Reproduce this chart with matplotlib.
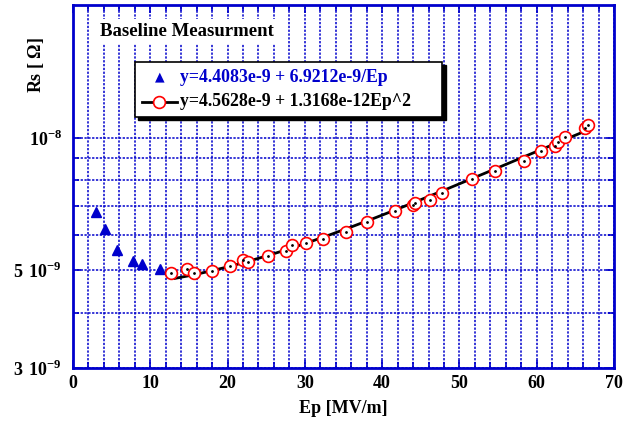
import numpy as np
import matplotlib
matplotlib.use("Agg")
import matplotlib.pyplot as plt
from matplotlib.ticker import FixedLocator, NullFormatter
from matplotlib.patches import Rectangle

plt.rcParams['font.family'] = 'Liberation Serif'
plt.rcParams['font.weight'] = 'bold'
plt.rcParams['mathtext.fontset'] = 'custom'
plt.rcParams['mathtext.rm'] = 'Liberation Serif:bold'
plt.rcParams['mathtext.bf'] = 'Liberation Serif:bold'

# low field points (blue triangles)
ep_low = [3.0, 4.1, 5.7, 7.7, 8.9, 11.3]
rs_low = [6.77e-9, 6.19e-9, 5.57e-9, 5.26e-9, 5.16e-9, 5.02e-9]

# measured points (red circles)
ep_meas = [12.7, 14.8, 15.6, 18.0, 20.3, 22.0, 22.6, 25.2, 27.6, 28.3, 30.1,
           32.4, 35.3, 38.1, 41.7, 44.0, 44.2, 46.2, 47.8, 51.6, 54.6, 58.3,
           60.5, 62.4, 62.8, 63.7, 66.2, 66.7]
rs_meas = [4.92e-9, 5.04e-9, 4.92e-9, 4.99e-9, 5.11e-9, 5.27e-9, 5.22e-9,
           5.40e-9, 5.53e-9, 5.72e-9, 5.78e-9, 5.90e-9, 6.11e-9, 6.42e-9,
           6.82e-9, 7.02e-9, 7.10e-9, 7.22e-9, 7.48e-9, 8.05e-9, 8.42e-9,
           8.85e-9, 9.32e-9, 9.57e-9, 9.76e-9, 1.002e-8, 1.049e-8, 1.067e-8]

# quadratic fit coefficients
fit_a = 4.5628e-9
fit_b = 1.3168e-12
fit_range = (13.2, 67.0)

label_low = 'y=4.4083e-9 + 6.9212e-9/Ep'
label_fit = 'y=4.5628e-9 + 1.3168e-12Ep^2'

blue = '#0000cc'

fig = plt.figure(figsize=(6.3, 4.26), dpi=100)
ax = fig.add_axes([73 / 630, 1 - 368 / 426, 541 / 630, 363 / 426])

ax.set_xlim(0, 70)
ax.set_yscale('log')
ax.set_ylim(3e-9, 2.0e-8)

# grid: every 2 on x, 4..10 e-9 on y
ax.xaxis.set_major_locator(FixedLocator(np.arange(0, 71, 10)))
ax.xaxis.set_minor_locator(FixedLocator(np.arange(0, 71, 2)))
ax.yaxis.set_major_locator(FixedLocator([3e-9, 5e-9, 1e-8]))
ax.yaxis.set_minor_locator(FixedLocator([4e-9, 6e-9, 7e-9, 8e-9, 9e-9]))
ax.yaxis.set_minor_formatter(NullFormatter())
ax.set_yticklabels([r'$3\ 10^{-9}$', r'$5\ 10^{-9}$', r'$10^{-8}$'])
ax.set_xticklabels([str(v) for v in range(0, 71, 10)])

ax.grid(True, which='both', color=blue, linestyle=(0, (1.5, 1.0)), linewidth=1.1)
ax.tick_params(which='both', direction='in', top=True, right=True, color=blue,
               labelsize=13, width=1.2)
ax.tick_params(which='major', length=6)
ax.tick_params(which='minor', length=4)
ax.tick_params(axis='x', pad=5)
ax.tick_params(axis='y', pad=8)
for sp in ax.spines.values():
    sp.set_color(blue)
    sp.set_linewidth(2)

# fit curve
ep_fit = np.linspace(fit_range[0], fit_range[1], 200)
ax.plot(ep_fit, fit_a + fit_b * ep_fit ** 2, color='black', linewidth=2, zorder=3)

ax.plot(ep_low, rs_low, linestyle='none', marker='^', markersize=7,
        color=blue, zorder=4)
ax.plot(ep_meas, rs_meas, linestyle='none', marker='o', markersize=8.5,
        markerfacecolor='white', markeredgecolor='red', markeredgewidth=1.2, zorder=4)
ax.plot(ep_meas, rs_meas, linestyle='none', marker='.', markersize=2,
        color='black', zorder=5)

ax.set_xlabel('Ep [MV/m]', fontsize=13, fontweight='bold', labelpad=6)
ax.set_ylabel(r'Rs [ $\Omega$]', fontsize=13, fontweight='bold')
ax.yaxis.set_label_coords(-0.05, 0.835)

ax.text(0.05, 0.926, 'Baseline Measurment', transform=ax.transAxes,
        fontsize=13.5, fontweight='bold', va='center', ha='left', zorder=6,
        bbox=dict(facecolor='white', edgecolor='none', pad=3))

# legend box with drop shadow
fig.patches.append(Rectangle((138 / 630, 1 - 120 / 426), 308 / 630, 55 / 426,
                             transform=fig.transFigure, facecolor='black',
                             edgecolor='black', zorder=5))
fig.patches.append(Rectangle((135 / 630, 1 - 117 / 426), 307 / 630, 55 / 426,
                             transform=fig.transFigure, facecolor='white',
                             edgecolor='black', linewidth=1.2, zorder=6))
fig.text(160 / 630, 1 - 77 / 426, '\u25b2', color=blue, fontsize=9,
         ha='center', va='center', family='DejaVu Sans', zorder=7)
fig.text(180 / 630, 1 - 77 / 426, label_low, color=blue, fontsize=12.8,
         fontweight='bold', ha='left', va='center', zorder=7)
fig.lines.append(plt.Line2D([142 / 630, 177 / 630], [1 - 102 / 426, 1 - 102 / 426],
                            transform=fig.transFigure, color='black', linewidth=2,
                            marker='', zorder=7))
fig.lines.append(plt.Line2D([159 / 630], [1 - 102 / 426], transform=fig.transFigure,
                            marker='o', markersize=8.5, markerfacecolor='white',
                            markeredgecolor='red', markeredgewidth=1.2, zorder=8))
fig.text(180 / 630, 1 - 102 / 426, label_fit, color='black', fontsize=12.8,
         fontweight='bold', ha='left', va='center', zorder=7)

fig.savefig('out.png', dpi=100)
